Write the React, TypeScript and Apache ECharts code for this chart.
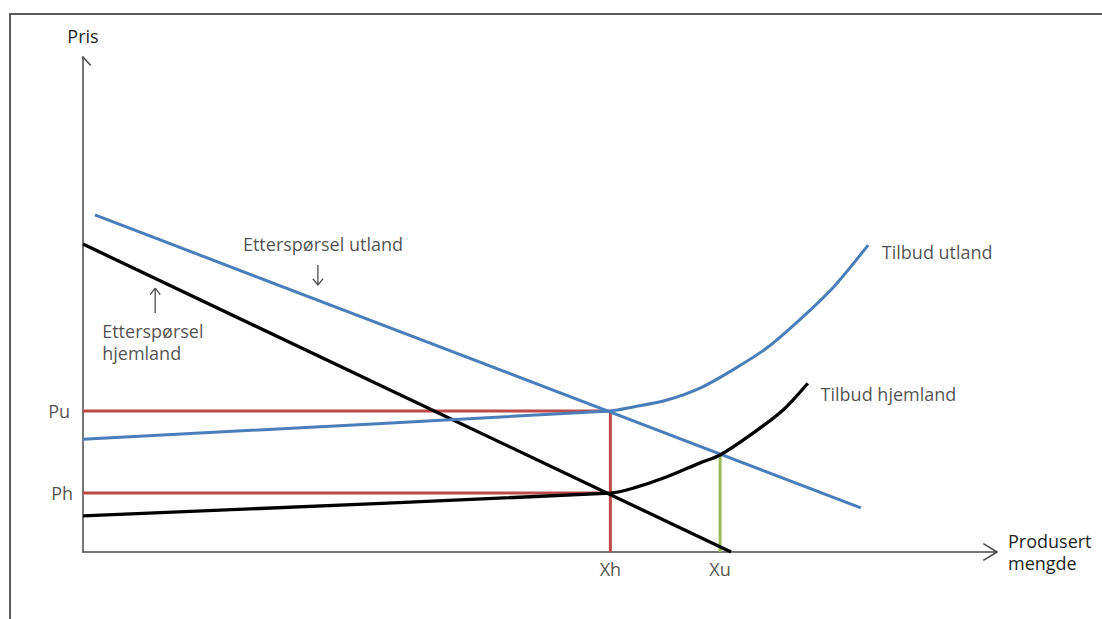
import React, { useEffect, useRef } from "react";
import * as echarts from "echarts";

// ---- data (quantity 0..100 on x, price 0..100 on y) ----
const Xh = 57.7;
const Xu = 69.7;
const Pu = 28.5;
const Ph = 11.9;

const demandAbroad: number[][] = [[1.3, 68.1], [85.1, 8.9]];
const demandHome: number[][] = [[0, 62.2], [70.9, 0]];
const supplyAbroad: number[][] = [
  [0, 22.8], [Xh, Pu], [60.2, 29.3], [63.9, 30.7], [67.5, 33.1],
  [71.1, 36.8], [74.8, 41.2], [78.4, 46.9], [82.1, 53.5], [85.9, 62.0],
];
const supplyHome: number[][] = [
  [0, 7.3], [Xh, Ph], [60.2, 12.9], [63.9, 15.2], [67.5, 18.0],
  [Xu, 19.6], [73.0, 23.6], [76.6, 28.7], [79.3, 34.1],
];

const yTickLabels = [
  { name: "Pu", value: Pu },
  { name: "Ph", value: Ph },
];
const xTickLabels = [
  { name: "Xh", value: Xh },
  { name: "Xu", value: Xu },
];

const annotations = [
  { text: "Etterspørsel utland", x: 17.5, y: 62.2 },
  { text: "Etterspørsel\nhjemland", x: 2.1, y: 42.4 },
  { text: "Tilbud utland", x: 87.4, y: 60.6 },
  { text: "Tilbud hjemland", x: 80.7, y: 31.9 },
];

// pointer arrows: x, from y (tail) to y (head)
const pointerArrows = [
  { x: 25.7, from: 58.0, to: 53.9 },
  { x: 7.9, from: 48.3, to: 53.3 },
];

const X_MAX = 100;
const Y_MAX = 100;

const FONT = "'Open Sans', 'Noto Sans', sans-serif";
const FS = 18;
const LH = 22;
const TEXT = "#1f1f1f";
const AXIS = "#4a4a4a";
const BLUE = "#4A7EBB";
const RED = "#BE4B48";
const GREEN = "#98B954";

function arrowPoints(x: number, from: number, to: number): number[][] {
  const dir = to > from ? -1 : 1;
  return [
    [x, from],
    [x, to],
    [x - 0.55, to + dir * 1.3],
    [x, to],
    [x + 0.55, to + dir * 1.3],
  ];
}

const lineBase = {
  type: "line",
  showSymbol: false,
  symbol: "none",
  silent: true,
  clip: false,
};

export default function App() {
  const ref = useRef<HTMLDivElement>(null);

  useEffect(() => {
    if (!ref.current) return;
    const chart = echarts.init(ref.current, null, { renderer: "svg" });

    const labelData: any[] = [];
    yTickLabels.forEach((t) =>
      labelData.push({
        value: [0, t.value],
        label: { show: true, formatter: t.name, position: "left", distance: t.name === "Pu" ? 13 : 10 },
      })
    );
    xTickLabels.forEach((t) =>
      labelData.push({
        value: [t.value, 0],
        label: { show: true, formatter: t.name, position: "bottom", distance: 8 },
      })
    );
    annotations.forEach((a) =>
      labelData.push({
        value: [a.x, a.y],
        label: { show: true, formatter: a.text, position: "right", distance: 0, lineHeight: LH },
      })
    );

    const option: any = {
      animation: false,
      backgroundColor: "#ffffff",
      textStyle: { fontFamily: FONT },
      graphic: [
        {
          type: "rect",
          shape: { x: 10, y: 14, width: 1200, height: 700 },
          style: { fill: "none", stroke: "#5a5a5a", lineWidth: 2 },
          silent: true,
          z: -10,
        },
      ],
      grid: { left: 83, top: 57, right: 105, bottom: 67, containLabel: false, outerBoundsMode: "none" },
      xAxis: {
        type: "value",
        min: 0,
        max: X_MAX,
        name: "Produsert\nmengde",
        nameLocation: "end",
        nameGap: 11,
        nameTextStyle: {
          fontFamily: FONT,
          fontSize: FS,
          color: TEXT,
          align: "left",
          verticalAlign: "middle",
          lineHeight: LH,
          padding: [0, 0, 10, 0],
        },
        axisLine: { show: true, lineStyle: { color: AXIS, width: 1.5 } },
        axisTick: { show: false },
        axisLabel: { show: false },
        splitLine: { show: false },
      },
      yAxis: {
        type: "value",
        min: 0,
        max: Y_MAX,
        name: "Pris",
        nameLocation: "end",
        nameGap: 12,
        nameTextStyle: { fontFamily: FONT, fontSize: FS, color: TEXT, align: "center" },
        axisLine: { show: true, lineStyle: { color: AXIS, width: 1.5 } },
        axisTick: { show: false },
        axisLabel: { show: false },
        splitLine: { show: false },
      },
      series: [
        // axis arrowheads
        { ...lineBase, name: "xArrow", data: [[98.5, 1.7], [X_MAX, 0], [98.5, -1.7]], lineStyle: { color: AXIS, width: 1.5 } },
        { ...lineBase, name: "yArrow", data: [[-0.85, 98.3], [0, Y_MAX], [0.85, 98.3]], lineStyle: { color: AXIS, width: 1.5 } },
        // reference lines
        { ...lineBase, name: "Pu-line", data: [[0, Pu], [Xh, Pu], [Xh, 0]], lineStyle: { color: RED, width: 3 }, z: 2 },
        { ...lineBase, name: "Ph-line", data: [[0, Ph], [Xh, Ph]], lineStyle: { color: RED, width: 3 }, z: 2 },
        { ...lineBase, name: "Xu-line", data: [[Xu, 19.6], [Xu, 0]], lineStyle: { color: GREEN, width: 3 }, z: 2 },
        // curves
        { ...lineBase, name: "Etterspørsel utland", data: demandAbroad, lineStyle: { color: BLUE, width: 3 }, z: 3 },
        { ...lineBase, name: "Etterspørsel hjemland", data: demandHome, lineStyle: { color: "#000", width: 3.3 }, z: 3 },
        { ...lineBase, name: "Tilbud utland", data: supplyAbroad, smooth: 0.3, lineStyle: { color: BLUE, width: 3 }, z: 3 },
        { ...lineBase, name: "Tilbud hjemland", data: supplyHome, smooth: 0.3, lineStyle: { color: "#000", width: 3.3 }, z: 3 },
        // pointer arrows
        ...pointerArrows.map((p, i) => ({
          ...lineBase,
          name: "pointer" + i,
          data: arrowPoints(p.x, p.from, p.to),
          lineStyle: { color: "#505050", width: 1.3 },
        })),
        // texts
        {
          type: "scatter",
          name: "labels",
          symbolSize: 0,
          silent: true,
          clip: false,
          label: { show: true, fontFamily: FONT, fontSize: FS, color: TEXT },
          data: labelData,
          z: 5,
        },
      ],
    };

    chart.setOption(option);
    return () => chart.dispose();
  }, []);

  return (
    <div
      ref={ref}
      style={{ position: "fixed", left: 0, top: 0, width: 1102, height: 619, background: "#fff" }}
    />
  );
}
